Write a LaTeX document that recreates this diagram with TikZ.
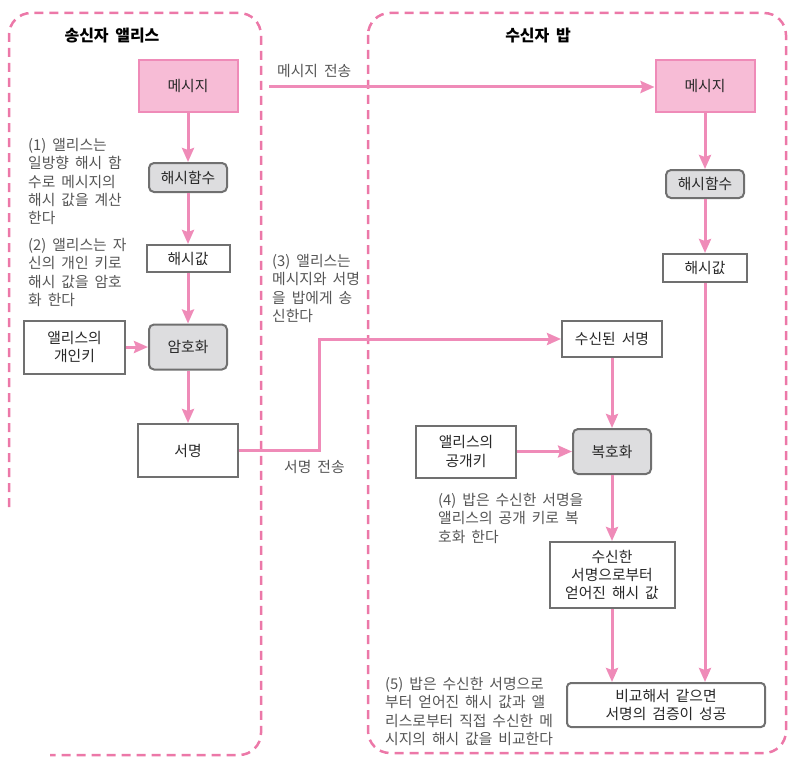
\documentclass[tikz,border=0pt]{standalone}
\usepackage{fontspec}
\setmainfont[WordSpace=1.8]{Noto Sans CJK KR}
\usetikzlibrary{arrows.meta}
\definecolor{linkpink}{RGB}{239,139,184}
\definecolor{msgpink}{RGB}{247,188,214}
\definecolor{panelpink}{RGB}{236,120,168}
\definecolor{procgray}{RGB}{221,221,223}
\definecolor{boxgray}{RGB}{112,112,112}
\definecolor{notegray}{RGB}{85,85,85}
\definecolor{textdark}{RGB}{40,40,40}

\begin{document}
\begin{tikzpicture}[x=1pt, y=-1pt,
  flow/.style={draw=linkpink, line width=3pt, -{Stealth[length=14pt, width=12pt, inset=2pt]}},
  box/.style={draw=boxgray, line width=2pt, fill=white, text=textdark, inner sep=0pt, align=center, font=\fontsize{14.8}{18.3}\selectfont},
  msgbox/.style={box, draw=linkpink, fill=msgpink},
  procbox/.style={box, fill=procgray, rounded corners=5pt},
  note/.style={anchor=north west, inner sep=0pt, align=left, text=notegray, font=\fontsize{14.8}{18.3}\selectfont},
  lbl/.style={anchor=west, inner sep=0pt, text=notegray, font=\fontsize{14.8}{18.3}\selectfont},
  panel/.style={draw=panelpink, line width=2.5pt, dash pattern=on 9pt off 6pt, rounded corners=22pt},
  heading/.style={text=black, font=\fontsize{16}{18}\selectfont\bfseries}]
  \useasboundingbox (0,0) rectangle (799,765);

  \draw[panel] (9,507) -- (9,13) -- (261,13) -- (261,755) -- (50,755);
  \draw[panel] (368,13) rectangle (786,753);
  \node[heading] (alicehd) at (112,36) {송신자 앨리스};
  \node[heading] (bobhd) at (538,36) {수신자 밥};

  \node[msgbox, minimum width=99pt, minimum height=52pt] (lmsg) at (188,86) {메시지};
  \node[procbox, minimum width=78pt, minimum height=29pt] (lhf) at (188,177.5) {해시함수};
  \node[box, minimum width=83pt, minimum height=27pt] (lhv) at (188,258.5) {해시값};
  \node[box, minimum width=101pt, minimum height=53pt] (lkey) at (74.5,347) {앨리스의\\개인키};
  \node[procbox, minimum width=78pt, minimum height=45pt] (lenc) at (188,347) {암호화};
  \node[box, minimum width=100pt, minimum height=53pt] (lsig) at (188,450.5) {서명};

  \node[msgbox, minimum width=99pt, minimum height=52pt] (rmsg) at (705,86) {메시지};
  \node[procbox, minimum width=78pt, minimum height=28pt] (rhf) at (705,184) {해시함수};
  \node[box, minimum width=84pt, minimum height=28pt] (rhv) at (705,268) {해시값};
  \node[box, minimum width=100pt, minimum height=36pt] (rsig) at (612,339) {수신된 서명};
  \node[box, minimum width=100pt, minimum height=52pt] (pubkey) at (466,451.5) {앨리스의\\공개키};
  \node[procbox, minimum width=78pt, minimum height=45pt] (rdec) at (612,451.5) {복호화};
  \node[box, minimum width=125pt, minimum height=66pt] (dhash) at (612,575) {수신한\\서명으로부터\\얻어진 해시 값};
  \node[box, rounded corners=4pt, minimum width=198pt, minimum height=44pt] (cmp) at (666,705) {비교해서 같으면\\서명의 검증이 성공};

  \node[note] (note1) at (28,138) {(1) 앨리스는\\일방향 해시 함\\수로 메시지의\\해시 값을 계산\\한다};
  \node[note] (note2) at (28,238) {(2) 앨리스는 자\\신의 개인 키로\\해시 값을 암호\\화 한다};
  \node[note] (note3) at (272,254) {(3) 앨리스는\\메시지와 서명\\을 밥에게 송\\신한다};
  \node[note] (note4) at (438,493) {(4) 밥은 수신한 서명을\\앨리스의 공개 키로 복\\호화 한다};
  \node[note] (note5) at (385,677) {(5) 밥은 수신한 서명으로\\부터 얻어진 해시 값과 앨\\리스로부터 직접 수신한 메\\시지의 해시 값을 비교한다};

  \coordinate (msgout) at (269,87);
  \draw[flow] (msgout) -- (rmsg.west |- msgout);
  \node[lbl] (msglbl) at (277,71) {메시지 전송};

  \draw[flow] (lmsg) -- (lhf);
  \draw[flow] (lhf) -- (lhv);
  \draw[flow] (lhv) -- (lenc);
  \draw[flow] (lkey) -- (lenc);
  \draw[flow] (lenc) -- (lsig);
  \draw[flow] (lsig.east) -- ++(80,0) |- (rsig.west);
  \node[lbl] (siglbl) at (284,467) {서명 전송};

  \draw[flow] (rmsg) -- (rhf);
  \draw[flow] (rhf) -- (rhv);
  \draw[flow] (rhv.south) -- (rhv.south |- cmp.north);
  \draw[flow] (rsig) -- (rdec);
  \draw[flow] (pubkey) -- (rdec);
  \draw[flow] (rdec) -- (dhash);
  \draw[flow] (dhash.south) -- (dhash.south |- cmp.north);
\end{tikzpicture}
\end{document}
